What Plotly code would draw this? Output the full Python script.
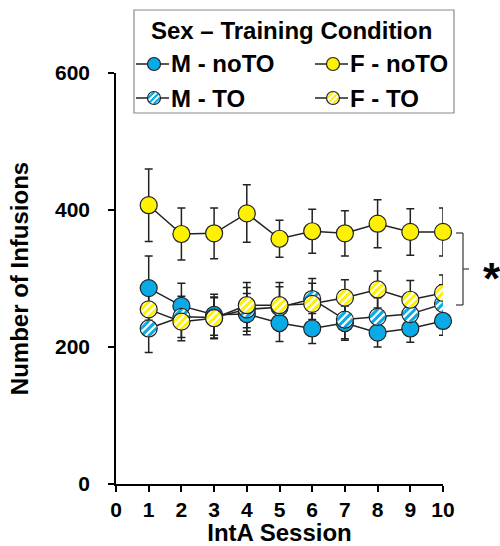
import math
import plotly.graph_objects as go

# ---------------- data ----------------
sessions = [1, 2, 3, 4, 5, 6, 7, 8, 9, 10]
m_noto = [286, 260, 247, 248, 235, 227, 235, 221, 227, 238]
m_noto_err = [47, 33, 30, 30, 27, 22, 25, 21, 20, 21]
f_noto = [407, 365, 366, 395, 358, 369, 366, 380, 368, 368]
f_noto_err = [53, 38, 37, 42, 27, 32, 33, 35, 34, 35]
m_to = [227, 244, 243, 255, 258, 270, 240, 244, 248, 263]
m_to_err = [35, 30, 30, 32, 30, 30, 28, 28, 27, 28]
f_to = [255, 237, 242, 261, 261, 263, 272, 284, 269, 279]
f_to_err = [30, 28, 30, 33, 33, 30, 26, 27, 28, 26]

series_names = ["M - noTO", "F - noTO", "M - TO", "F - TO"]
legend_title = "Sex \u2013 Training Condition"
x_title = "IntA Session"
y_title = "Number of Infusions"
x_ticks = [0, 1, 2, 3, 4, 5, 6, 7, 8, 9, 10]
y_ticks = [0, 200, 400, 600]

BLUE = "#0AAAE6"
YELLOW = "#FFF200"
EDGE = "#222222"
FONT = "Liberation Sans"

W, H = 500, 546
L, R, T, B = 116, 57, 73, 62
PW, PH = W - L - R, H - T - B


def px(xp):
    return (xp - L) / PW


def py(yp):
    return (H - B - yp) / PH


fig = go.Figure()

eb = dict(type="data", thickness=1.5, width=4, color=EDGE)


def add_series(y, err, color, solid, name):
    fig.add_trace(go.Scatter(
        x=sessions, y=y, name=name,
        mode="lines+markers" if solid else "lines",
        line=dict(color=EDGE, width=1.5),
        marker=dict(size=17, color=color, line=dict(color=EDGE, width=1.2)),
        error_y=dict(array=err, **eb),
        showlegend=False, cliponaxis=False,
    ))


add_series(m_to, m_to_err, BLUE, False, series_names[2])
add_series(f_to, f_to_err, YELLOW, False, series_names[3])
add_series(m_noto, m_noto_err, BLUE, True, series_names[0])
add_series(f_noto, f_noto_err, YELLOW, True, series_names[1])

shapes = []


def striped_marker(xa, ya, xref, yref, color, r):
    base = dict(xref=xref, yref=yref, xsizemode="pixel", ysizemode="pixel",
                xanchor=xa, yanchor=ya, layer="above")
    shapes.append(dict(type="circle", x0=-r, x1=r, y0=-r, y1=r,
                       fillcolor="white", line=dict(width=0), **base))
    ri = r - 0.5
    step = r * 0.62
    for d in (-step, 0.0, step):
        half = math.sqrt(max(ri * ri - d * d, 0))
        cx, cy = d / math.sqrt(2), -d / math.sqrt(2)
        ux, uy = half / math.sqrt(2), half / math.sqrt(2)
        shapes.append(dict(type="line", x0=cx - ux, y0=cy - uy, x1=cx + ux, y1=cy + uy,
                           line=dict(color=color, width=r * 0.36), **base))
    shapes.append(dict(type="circle", x0=-r, x1=r, y0=-r, y1=r,
                       fillcolor="rgba(0,0,0,0)", line=dict(color=EDGE, width=1.2), **base))


for xv, yv in zip(sessions, m_to):
    striped_marker(xv, yv, "x", "y", BLUE, 8.5)
for xv, yv in zip(sessions, f_to):
    striped_marker(xv, yv, "x", "y", YELLOW, 8.5)

# ---------------- manual legend ----------------
shapes.append(dict(type="rect", xref="paper", yref="paper",
                   x0=px(134), x1=px(454), y0=py(113), y1=py(10),
                   line=dict(color="#8a8a8a", width=1.2), fillcolor="rgba(0,0,0,0)"))
annotations = [dict(text=legend_title, x=px(291), y=py(31), xref="paper", yref="paper",
                    showarrow=False, xanchor="center", yanchor="middle",
                    font=dict(family=FONT, size=24, color="black", weight="bold"))]

entries = [(series_names[0], BLUE, True, 154, 64), (series_names[1], YELLOW, True, 333, 64),
           (series_names[2], BLUE, False, 154, 98), (series_names[3], YELLOW, False, 333, 98)]
for name, color, solid, mx, my in entries:
    shapes.append(dict(type="line", xref="paper", yref="paper",
                       x0=px(mx - 18), x1=px(mx + 15), y0=py(my), y1=py(my),
                       line=dict(color=EDGE, width=1.5)))
    if solid:
        shapes.append(dict(type="circle", xref="paper", yref="paper", xsizemode="pixel",
                           ysizemode="pixel", xanchor=px(mx), yanchor=py(my),
                           x0=-6.5, x1=6.5, y0=-6.5, y1=6.5, fillcolor=color,
                           line=dict(color=EDGE, width=1.2)))
    else:
        striped_marker(px(mx), py(my), "paper", "paper", color, 6.5)
    annotations.append(dict(text=name, x=px(mx + 15), y=py(my), xref="paper", yref="paper",
                            showarrow=False, xanchor="left", yanchor="middle",
                            font=dict(family=FONT, size=24, color="black", weight="bold")))

# ---------------- significance bracket ----------------
bx = px(463)
shapes += [
    dict(type="line", xref="paper", yref="paper", x0=px(456), x1=bx, y0=py(233), y1=py(233),
         line=dict(color="#444444", width=1.3)),
    dict(type="line", xref="paper", yref="paper", x0=bx, x1=bx, y0=py(233), y1=py(305),
         line=dict(color="#444444", width=1.3)),
    dict(type="line", xref="paper", yref="paper", x0=px(456), x1=bx, y0=py(305), y1=py(305),
         line=dict(color="#444444", width=1.3)),
    dict(type="line", xref="paper", yref="paper", x0=bx, x1=px(469), y0=py(269), y1=py(269),
         line=dict(color="#444444", width=1.3)),
]
annotations.append(dict(text="*", x=px(492), y=py(278), xref="paper", yref="paper",
                        showarrow=False, xanchor="center", yanchor="middle",
                        font=dict(family=FONT, size=44, color="black", weight="bold")))

axis_common = dict(showline=True, linecolor="black", linewidth=1.5, ticks="outside",
                   tickcolor="black", tickwidth=1.5, showgrid=False, zeroline=False,
                   tickfont=dict(family=FONT, size=21, color="black", weight="bold"))

fig.update_layout(
    width=W, height=H, margin=dict(l=L, r=R, t=T, b=B, autoexpand=False),
    paper_bgcolor="white", plot_bgcolor="white",
    xaxis=dict(range=[0, 10], tickvals=x_ticks, ticklen=6, **axis_common,
               title=dict(text=x_title, standoff=5,
                          font=dict(family=FONT, size=24, color="black", weight="bold"))),
    yaxis=dict(range=[0, 600], tickvals=y_ticks, ticklen=6, ticklabelstandoff=14,
               **axis_common,
               title=dict(text=y_title, standoff=20,
                          font=dict(family=FONT, size=24, color="black", weight="bold"))),
    shapes=shapes, annotations=annotations,
)

fig.write_html("out.html", config={"displayModeBar": False},
               post_script="document.body.style.margin='0';document.body.style.overflow='hidden';")
